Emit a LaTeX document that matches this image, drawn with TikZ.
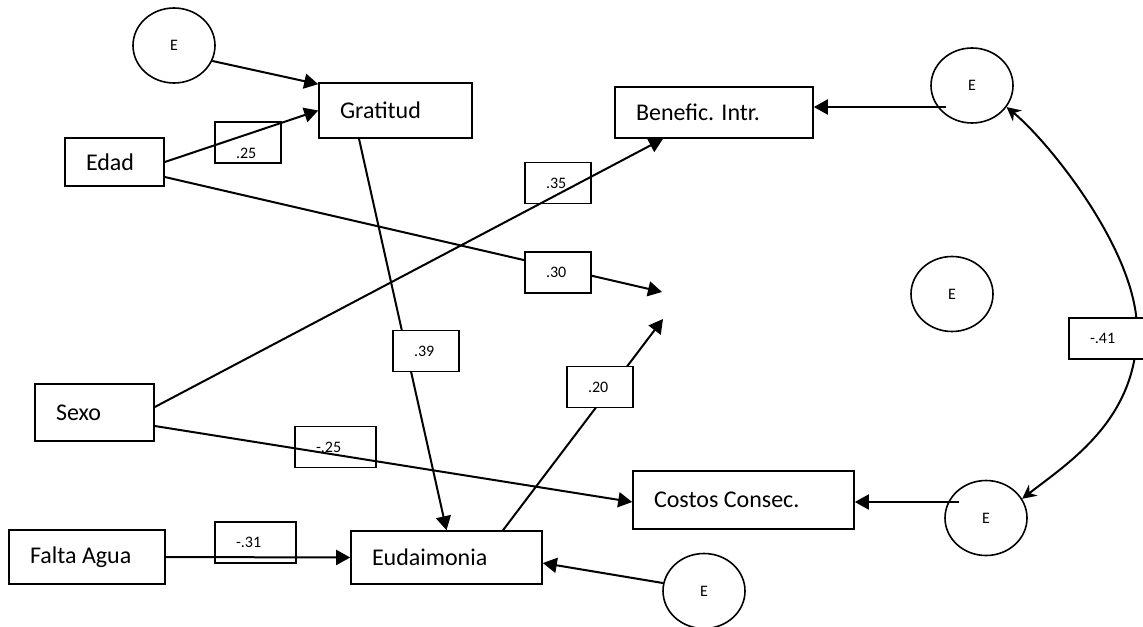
\documentclass[tikz,border=0pt]{standalone}
\usepackage{fontspec}
\setmainfont{Carlito}
\usetikzlibrary{shapes.geometric,arrows.meta,calc}
\tikzset{
  varbox/.style = {draw, line width=0.8pt, inner xsep=10.5pt, inner ysep=0pt,
                   text width=#1, align=flush left, font=\fontsize{12}{14}\selectfont},
  lbl/.style = {draw, line width=0.8pt, inner xsep=10.5pt, inner ysep=0pt,
                minimum height=20.5pt, text width=#1, align=flush left,
                font=\fontsize{8}{9}\selectfont},
  lbl/.default = 12pt,
  err/.style = {ellipse, draw, line width=0.8pt, minimum width=41pt,
                minimum height=37.5pt, inner sep=0pt,
                font=\fontsize{8}{9}\selectfont},
  arr/.style = {-{Triangle[length=7pt,width=7.5pt]}, line width=1pt},
  cov/.style = {{Stealth[length=7pt,width=7pt]}-{Stealth[length=7pt,width=7pt]}, line width=1pt}
}

\begin{document}
\begin{tikzpicture}[x=0.5pt, y=-0.5pt]
	\useasboundingbox (0,0) rectangle (1143,626);

	% Variables
	\node[varbox=55.5pt, minimum height=27.5pt] (grat) at (395.5,110.5) {Gratitud};
	\node[varbox=28.5pt, minimum height=24pt]   (edad) at (114.5,162) {Edad};
	\node[varbox=38.5pt, minimum height=28.5pt] (sexo) at (94.5,412.5) {Sexo};
	\node[varbox=57pt,   minimum height=27pt]   (agua) at (87,557) {Falta Agua};
	\node[varbox=74.5pt, minimum height=26.5pt] (eud)  at (446.5,557.5) {Eudaimonia};
	\node[varbox=89.5pt, minimum height=29pt]   (cost) at (743.5,500) {Costos Consec.};
	\node[varbox=78pt,   minimum height=25.5pt] (ben)  at (714,112.5) {Benefic. Intr.};

	% Errors
	\node[err] (eA) at (174,45.5) {E};
	\node[err] (eB) at (972,85.5) {E};
	\node[err] (eC) at (952,294) {E};
	\node[err] (eD) at (986,518) {E};
	\node[err] (eE) at (704,591) {E};

	% Loose ends
	\coordinate (endA) at (662,292);
	\coordinate (endB) at (663,319);
	\coordinate (bend) at (1137,330);

	% Weights under the paths
	\node[lbl] (wEdadGrat) at (248,142.5) {\raisebox{-8pt}[0pt][0pt]{.25}};
	\node[lbl] (wSexoBen) at (558,183) {.35};
	\node[lbl=19.5pt] (wSexoCost) at (335.5,447) {-.25};
	\node[lbl=19.5pt] (wAgua) at (255.5,542.5) {-.31};

	% Paths
	\draw[arr] (eA.-22) -- ($(grat.north west)+(0,2)$);
	\draw[arr] (edad.east) -- (grat.west);
	\draw[arr] ($(edad.east)+(0,15)$) -- (endA);
	\draw[arr] ($(sexo.east)+(0,-5.5)$) -- ($(ben.south)+(-51,0)$);
	\draw[arr] ($(sexo.east)+(0,13.5)$) -- ($(cost.west)+(0,2)$);
	\draw[arr] (agua.east) -- (eud.west);
	\draw[arr] ($(grat.south)+(-36.5,0)$) -- (eud.north);
	\draw[arr] ($(eud.north)+(56.5,0)$) -- (endB);
	\draw[arr] (eE.169) -- ($(eud.east)+(0,5.5)$);
	\draw[arr] ($(eB.center)+(-26,21.5)$) -- ($(ben.east)+(0,-5.5)$);
	\draw[arr] ($(eD.center)+(-27,-16)$) -- ($(cost.east)+(0,2)$);

	% Covariance
	\draw[cov] (eD.28) .. controls (1068,463) and (1137,420) .. (bend)
	                   .. controls (1137,250) and (1047,140) .. (eB.-32);

	% Weights over the paths
	\node[lbl, fill=white] (wEdadEnd) at (558,272.5) {.30};
	\node[lbl, fill=white] (wGratEud) at (426,351) {.39};
	\node[lbl, fill=white] (wEudEnd) at (600,387) {.20};
	\node[lbl=19.5pt, fill=white] (wCov) at (1109.5,338.5) {-.41};

\end{tikzpicture}
\end{document}
